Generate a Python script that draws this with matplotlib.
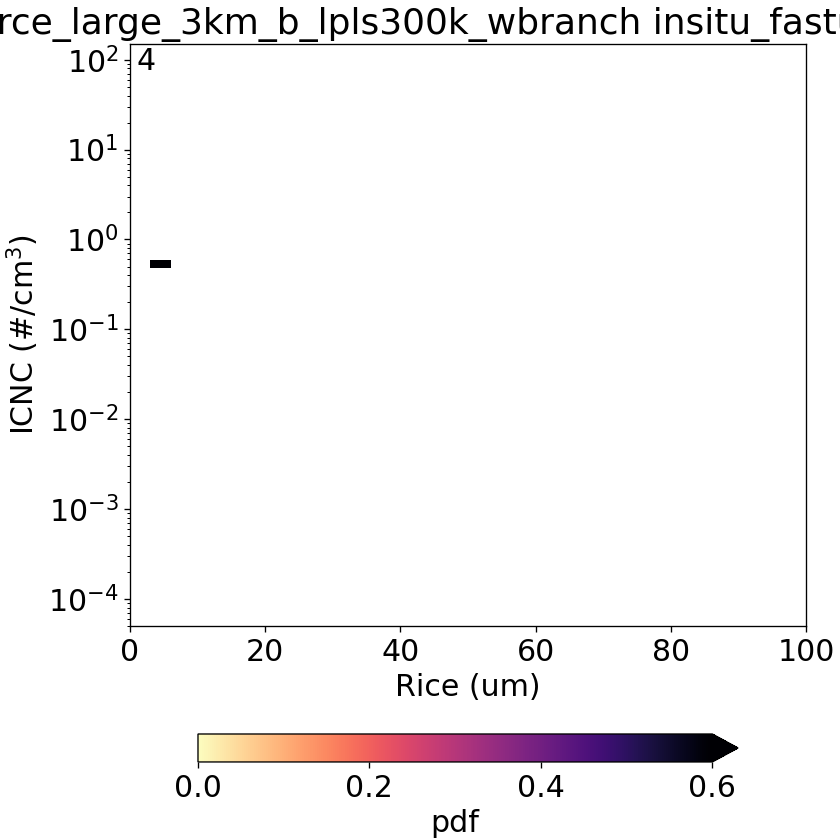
import numpy as np
import matplotlib
matplotlib.use('Agg')
import matplotlib.pyplot as plt

# bins of the 2d histogram
rice_edges = np.arange(0, 103, 3)               # um
icnc_edges = 10 ** np.arange(-4.28, 2.3, 0.09)  # #/cm3

# pdf, only one bin has data (Rice 3-6 um, ICNC ~0.5)
pdf = np.full((len(icnc_edges) - 1, len(rice_edges) - 1), np.nan)
pdf[44, 1] = 1.0

title = 'force_large_3km_b_lpls300k_wbranch insitu_fastup_wbo'
panel = '4'

plt.rcParams['font.size'] = 18

fig = plt.figure(figsize=(7, 7), dpi=120)
ax = fig.add_axes([0.1548, 0.2548, 0.8048, 0.6929])
cax = fig.add_axes([0.2357, 0.0929, 0.6429, 0.0333])

pc = ax.pcolormesh(rice_edges, icnc_edges, np.ma.masked_invalid(pdf),
                   cmap='magma_r', vmin=0, vmax=0.6)
ax.set_yscale('log')
ax.set_xlim(0, 100)
ax.set_ylim(5e-5, 1.5e2)
ax.set_xlabel('Rice (um)')
ax.set_ylabel('ICNC (#/cm$^3$)')
ax.set_title(title)
ax.text(0.01, 0.995, panel, transform=ax.transAxes, va='top', ha='left')

cb = fig.colorbar(pc, cax=cax, orientation='horizontal', extend='max')
cb.set_label('pdf')
cb.set_ticks([0.0, 0.2, 0.4, 0.6])

fig.savefig('out.png')
